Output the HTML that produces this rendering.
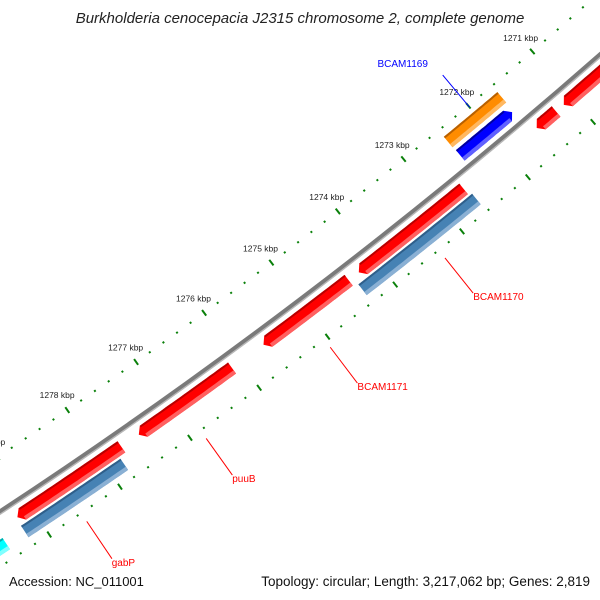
<!DOCTYPE html>
<html><head><meta charset="utf-8"><style>
html,body{margin:0;padding:0;background:#fff;overflow:hidden;width:600px;height:600px;}
svg{display:block;font-family:"Liberation Sans",sans-serif;}
</style></head><body>
<svg id="map" width="600" height="600" viewBox="0 0 600 600" xmlns="http://www.w3.org/2000/svg">
<rect width="600" height="600" fill="#fff"/>
<g id="ticks"></g>
<g id="feats"></g>
<g id="bb"></g>
<g id="labels"></g>
<text x="300" y="23" text-anchor="middle" font-size="15" font-style="italic" fill="#222">Burkholderia cenocepacia J2315 chromosome 2, complete genome</text>
<text x="9" y="586" font-size="13" fill="#111">Accession: NC_011001</text>
<text x="590" y="586" text-anchor="end" font-size="13.5" fill="#111">Topology: circular; Length: 3,217,062 bp; Genes: 2,819</text>
</svg>
<script>
// data
const majorTicks = [1269,1270,1271,1272,1273,1274,1275,1276,1277,1278,1279,1280,1281];
const tickLabels = ["1269 kbp","1270 kbp","1271 kbp","1272 kbp","1273 kbp","1274 kbp","1275 kbp","1276 kbp","1277 kbp","1278 kbp","1279 kbp","1280 kbp","1281 kbp"];
const featStart = [1274.40,1277.72,1276.12,1272.67,1271.25,1269.5,1279.5,1272.63,1277.81,1279.48,1271.63,1271.65];
const featEnd   = [1275.66,1279.20,1277.47,1274.25,1271.55,1271.13,1281.5,1274.34,1279.22,1281.5,1272.46,1272.45];
const featRing  = ["fwd","fwd","fwd","fwd","fwd","fwd","fwd","cds","cds","cds","orange","rev"];
const featColor = ["red","red","red","red","red","red","red","steel","steel","cyan","orange","blue"];
const featArrow = ["end","end","end","end","end","end","end","none","none","none","none","start"];
const labelText = ["BCAM1169","BCAM1170","BCAM1171","puuB","gabP"];
const labelKbp  = [1272.0,1273.35,1275.05,1276.85,1278.55];
const labelColor= ["#0000ff","#ff0000","#ff0000","#ff0000","#ff0000"];
const labelSide = ["in","out","out","out","out"];

const NS="http://www.w3.org/2000/svg";
const cx=-2976, cy=-4018, R=5420;
function ang(k){return (50.13+0.895*(k-1272))*Math.PI/180;}
function pt(k,r){const a=ang(k);return [cx+r*Math.cos(a), cy+r*Math.sin(a)];}
function mk(tag,attrs,parent){const e=document.createElementNS(NS,tag);for(const k in attrs)e.setAttribute(k,attrs[k]);parent.appendChild(e);return e;}

// ticks
const tg=document.getElementById('ticks');
const ringRadii=[R-47,R+46];
for(let k=1268.0;k<=1282.01;k+=0.2){
  const kk=Math.round(k*10)/10;
  const major=Math.abs(kk-Math.round(kk))<1e-6;
  for(const rr of ringRadii){
    const d=major?3.5:1;
    const p1=pt(kk,rr-d),p2=pt(kk,rr+d);
    const l=mk('line',{x1:p1[0],y1:p1[1],x2:p2[0],y2:p2[1],stroke:'#0a800a','stroke-width':2},tg);
    
    
  }
}
majorTicks.forEach((k,i)=>{
  const p=pt(k,R-65);
  const t=mk('text',{x:p[0],y:p[1]+3,'text-anchor':'middle','font-size':'8.5',fill:'#222'},tg);
  t.textContent=tickLabels[i];
  
  
});

// backbone
const bb=document.getElementById('bb');
function arcPath(k1,k2,r){const a=pt(k1,r),b=pt(k2,r);return `M${a[0]},${a[1]} A${r},${r} 0 0 1 ${b[0]},${b[1]}`;}
const b1=mk('path',{d:arcPath(1267,1283,R),stroke:'#7a7a7a','stroke-width':5,fill:'none'},bb);


const b2=mk('path',{d:arcPath(1267,1283,R+2),stroke:'#b8b8b8','stroke-width':1.4,fill:'none'},bb);



// features
const ringR={fwd:R+14,cds:R+30,orange:R-32,rev:R-14};
const cols={red:['#b80000','#ff0000','#ff6060'],steel:['#2f5f8a','#4682b4','#8ab0d4'],cyan:['#00b0b0','#00ffff','#80ffff'],orange:['#b86000','#ff8c00','#ffb860'],blue:['#0000a0','#0000ff','#6060ff']};
const TIP=0.07;
function bandPoly(k1,k2,r1,r2,arrow,rm,tipPoint){
  const pts=[];const n=24;
  let s=k1,e=k2;
  if(arrow==='end') e=k2-TIP;
  if(arrow==='start') s=k1+TIP;
  for(let i=0;i<=n;i++){pts.push(pt(s+(e-s)*i/n,r1));}
  if(arrow==='end'&&tipPoint) pts.push(pt(k2,rm));
  for(let i=n;i>=0;i--){pts.push(pt(s+(e-s)*i/n,r2));}
  if(arrow==='start'&&tipPoint) pts.push(pt(k1,rm));
  return pts.map(p=>p[0].toFixed(1)+','+p[1].toFixed(1)).join(' ');
}
const fg=document.getElementById('feats');
featStart.forEach((s,i)=>{
  const rc=ringR[featRing[i]];const hw=6.8;const c=cols[featColor[i]];const ar=featArrow[i];
  const g=mk('g',{},fg);
  
  
  mk('polygon',{points:bandPoly(s,featEnd[i],rc-hw,rc+hw,ar,rc,true),fill:c[1]},g);
  mk('polygon',{points:bandPoly(s,featEnd[i],rc-hw,rc-hw+2,ar,rc,false),fill:c[0]},g);
  mk('polygon',{points:bandPoly(s,featEnd[i],rc+hw-4,rc+hw,ar,rc,false),fill:c[2]},g);
});

// labels
const lg=document.getElementById('labels');
labelText.forEach((t,i)=>{
  const k=labelKbp[i];
  let p1,p2,pl;
  if(labelSide[i]==='in'){p1=pt(k,R-45);p2=pt(k,R-87);pl=pt(k,R-92);}
  else{p1=pt(k,R+56);p2=pt(k,R+101);pl=pt(k,R+106);}
  const l=mk('line',{x1:p1[0],y1:p1[1],x2:p2[0],y2:p2[1],stroke:labelColor[i],'stroke-width':1},lg);
  
  
  const tx=mk('text',{x:labelSide[i]==='in'?pl[0]-62:pl[0]-3,y:pl[1]+(labelSide[i]==='in'?-4:3),'font-size':'10',fill:labelColor[i]},lg);
  tx.textContent=t;
  
  
});
</script>
</body></html>
